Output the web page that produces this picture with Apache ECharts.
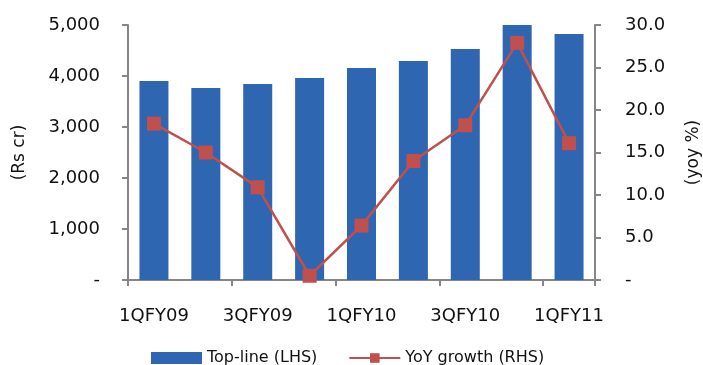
<!DOCTYPE html>
<html>
<head>
<meta charset="utf-8">
<script src="https://cdn.jsdelivr.net/npm/echarts@6/dist/echarts.min.js"></script>
<style>
  html, body { margin: 0; padding: 0; background: #fff; }
  #main { width: 703px; height: 365px; }
</style>
</head>
<body>
<div id="main"></div>
<script>
var categories = ['1QFY09', '2QFY09', '3QFY09', '4QFY09', '1QFY10', '2QFY10', '3QFY10', '4QFY10', '1QFY11'];
var topLine = [3900, 3765, 3845, 3960, 4155, 4295, 4530, 5020, 4825];
var yoyGrowth = [18.4, 15.0, 10.9, 0.5, 6.4, 14.0, 18.2, 27.9, 16.1];

var myChart = echarts.init(document.getElementById('main'));
var fontName = 'DejaVu Sans';
var axisGray = '#868686';

function fmtLeft(v) {
    if (v === 0) return '-';
    return v.toLocaleString('en-US');
}
function fmtRight(v) {
    if (v === 0) return '-';
    return v.toFixed(1);
}

var option = {
    animation: false,
    textStyle: { fontFamily: fontName },
    grid: { left: 128, right: 108, top: 25, bottom: 85, outerBoundsMode: 'none', containLabel: false },
    legend: {
        top: 345,
        left: 146,
        itemGap: 31,
        itemWidth: 51,
        itemHeight: 12,
        textStyle: { fontSize: 16, color: '#111', fontFamily: fontName },
        data: [
            { name: 'Top-line (LHS)', icon: 'rect' },
            { name: 'YoY growth (RHS)' }
        ]
    },
    xAxis: {
        type: 'category',
        data: categories,
        axisLine: { lineStyle: { color: axisGray, width: 2 } },
        axisTick: { show: true, length: 6, lineStyle: { color: axisGray, width: 2 } },
        axisLabel: { interval: 1, color: '#111', fontSize: 18, margin: 27, fontFamily: fontName }
    },
    yAxis: [
        {
            type: 'value',
            min: 0, max: 5000, interval: 1000,
            name: '(Rs cr)',
            nameLocation: 'middle',
            nameGap: 100,
            nameTextStyle: { fontSize: 17, color: '#111', fontFamily: fontName },
            splitLine: { show: false },
            axisLine: { show: true, lineStyle: { color: axisGray, width: 2 } },
            axisTick: { show: true, length: 6, lineStyle: { color: axisGray, width: 2 } },
            axisLabel: { formatter: fmtLeft, color: '#111', fontSize: 18, margin: 28, fontFamily: fontName }
        },
        {
            type: 'value',
            min: 0, max: 30, interval: 5,
            name: '(yoy %)',
            nameLocation: 'middle',
            nameGap: 90,
            nameTextStyle: { fontSize: 17, color: '#111', fontFamily: fontName },
            splitLine: { show: false },
            axisLine: { show: true, lineStyle: { color: axisGray, width: 2 } },
            axisTick: { show: true, length: 6, lineStyle: { color: axisGray, width: 2 } },
            axisLabel: { formatter: fmtRight, color: '#111', fontSize: 18, margin: 30, fontFamily: fontName }
        }
    ],
    series: [
        {
            name: 'Top-line (LHS)',
            type: 'bar',
            data: topLine,
            barWidth: 29,
            itemStyle: { color: '#2E66B1' }
        },
        {
            name: 'YoY growth (RHS)',
            type: 'line',
            yAxisIndex: 1,
            data: yoyGrowth,
            symbol: 'rect',
            symbolSize: 14,
            lineStyle: { color: '#C0504D', width: 2.5 },
            itemStyle: { color: '#C0504D' }
        }
    ]
};

myChart.setOption(option);
</script>
</body>
</html>
